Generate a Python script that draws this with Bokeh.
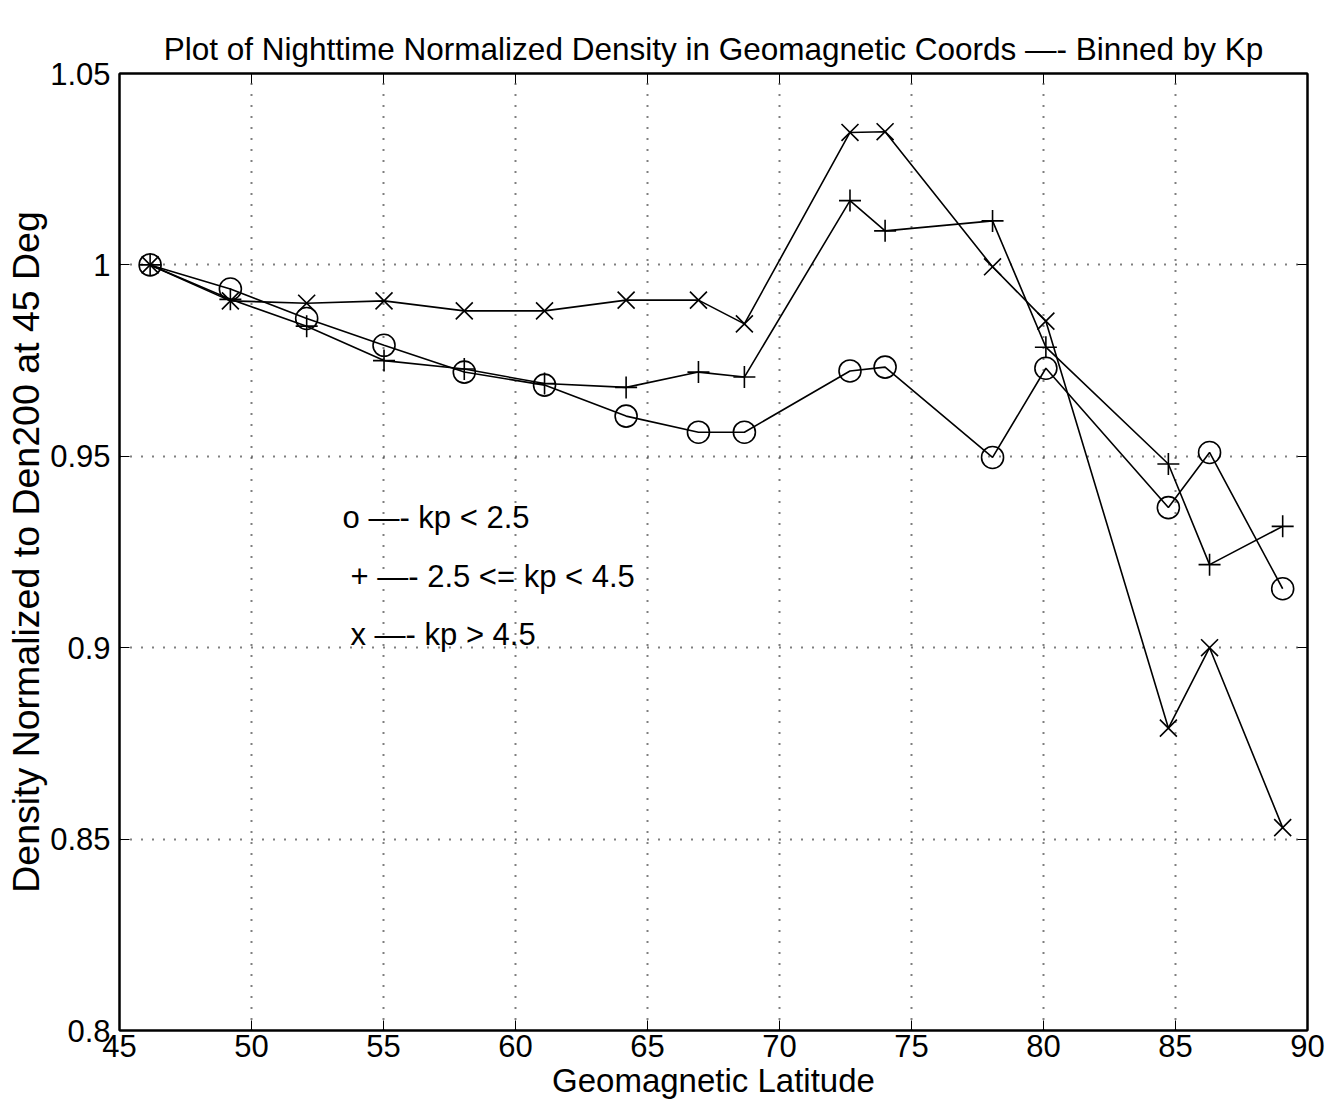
from bokeh.plotting import figure
from bokeh.models import LinearAxis, FixedTicker, Range1d
from bokeh.core.properties import value
from bokeh.embed import file_html
from bokeh.resources import INLINE

# ---- data ----
lat = [46.16, 49.2, 52.09, 55.02, 58.06, 61.1, 64.19, 66.93, 68.67,
       72.67, 74.0, 78.07, 80.09, 84.73, 86.29, 89.06]
kp_low = [1.0, 0.9937, 0.986, 0.979, 0.972, 0.9686, 0.9605, 0.9563, 0.9563,
          0.9723, 0.9733, 0.9497, 0.973, 0.9366, 0.951, 0.9154]
kp_mid = [1.0, 0.991, 0.984, 0.975, 0.9728, 0.969, 0.968, 0.972, 0.9707,
          1.0168, 1.0089, 1.0115, 0.9785, 0.948, 0.9217, 0.9317]
kp_high = [1.0, 0.9906, 0.990, 0.9906, 0.988, 0.988, 0.9908, 0.9908, 0.9846,
           1.0346, 1.0348, 0.9995, 0.9853, 0.879, 0.900, 0.853]
x_ticks = [45, 50, 55, 60, 65, 70, 75, 80, 85, 90]
y_ticks = [0.8, 0.85, 0.9, 0.95, 1.0, 1.05]
y_tick_labels = ["0.8", "0.85", "0.9", "0.95", "1", "1.05"]
legend_lines = ["o \u2014- kp < 2.5", "+ \u2014- 2.5 <= kp < 4.5", "x \u2014- kp > 4.5"]
legend_x = [53.45, 53.75, 53.75]
legend_y = [0.934, 0.9185, 0.9035]

FONT = "Liberation Sans"

p = figure(width=1331, height=1108, output_backend="svg", toolbar_location=None,
           x_range=Range1d(45, 90), y_range=Range1d(0.8, 1.05),
           title="Plot of Nighttime Normalized Density in Geomagnetic Coords \u2014- Binned by Kp",
           min_border_left=119, min_border_right=24, min_border_top=73, min_border_bottom=78,
           x_axis_label="Geomagnetic Latitude",
           y_axis_label="Density Normalized to Den200 at 45 Deg")

p.title.align = "center"
p.title.vertical_align = "top"
p.title.text_font = FONT
p.title.text_font_size = "31.5px"
p.title.text_font_style = "normal"
p.title.text_color = "black"
p.title.offset = 0
p.title.standoff = 10

p.outline_line_color = "black"
p.outline_line_width = 2
p.background_fill_color = "white"
p.border_fill_color = "white"

for ax in (p.xaxis[0], p.yaxis[0]):
    ax.major_tick_in = 10
    ax.major_tick_out = 0
    ax.minor_tick_line_color = None
    ax.axis_line_width = 2
    ax.major_label_text_font = FONT
    ax.major_label_text_font_size = "31px"
    ax.major_label_text_color = "black"
    ax.axis_label_text_font = FONT
    ax.axis_label_text_font_style = "normal"
    ax.axis_label_text_color = "black"

p.xaxis[0].axis_label_text_font_size = "33px"
p.yaxis[0].axis_label_text_font_size = "37.5px"
p.xaxis[0].ticker = FixedTicker(ticks=x_ticks)
p.yaxis[0].ticker = FixedTicker(ticks=y_ticks)
p.yaxis[0].major_label_overrides = {t: l for t, l in zip(y_ticks, y_tick_labels)}
p.xaxis[0].major_label_standoff = 4
p.xaxis[0].axis_label_standoff = 2
p.yaxis[0].major_label_standoff = 9
p.yaxis[0].axis_label_standoff = 0

# ticks on top and right (MATLAB box style), no labels
top = LinearAxis(ticker=FixedTicker(ticks=x_ticks), major_tick_in=10, major_tick_out=0,
                 minor_tick_line_color=None, major_label_text_font_size="10px",
                 major_label_overrides={t: "" for t in x_ticks}, axis_line_width=2)
right = LinearAxis(ticker=FixedTicker(ticks=y_ticks), major_tick_in=10, major_tick_out=0,
                   minor_tick_line_color=None, major_label_text_font_size="10px",
                   major_label_overrides={t: "" for t in y_ticks}, axis_line_width=2)
p.add_layout(top, "above")
p.add_layout(right, "right")

p.grid.grid_line_color = "black"
p.grid.grid_line_dash = "1 10"
p.grid.grid_line_width = 2
p.xgrid.ticker = FixedTicker(ticks=x_ticks)
p.ygrid.ticker = FixedTicker(ticks=y_ticks)

lw = 1.6
p.line(lat, kp_low, line_color="black", line_width=lw)
p.scatter(lat, kp_low, marker="circle", size=22, fill_color=None, line_color="black", line_width=lw)
p.line(lat, kp_mid, line_color="black", line_width=lw)
p.scatter(lat, kp_mid, marker="cross", size=22, line_color="black", line_width=lw)
p.line(lat, kp_high, line_color="black", line_width=lw)
p.scatter(lat, kp_high, marker="x", size=24, line_color="black", line_width=lw)

p.text(x=legend_x, y=legend_y, text=legend_lines, text_font=value(FONT),
       text_font_size="31px", text_baseline="middle", text_align="left", text_color="black")

open("out.html", "w").write(file_html(p, INLINE))
